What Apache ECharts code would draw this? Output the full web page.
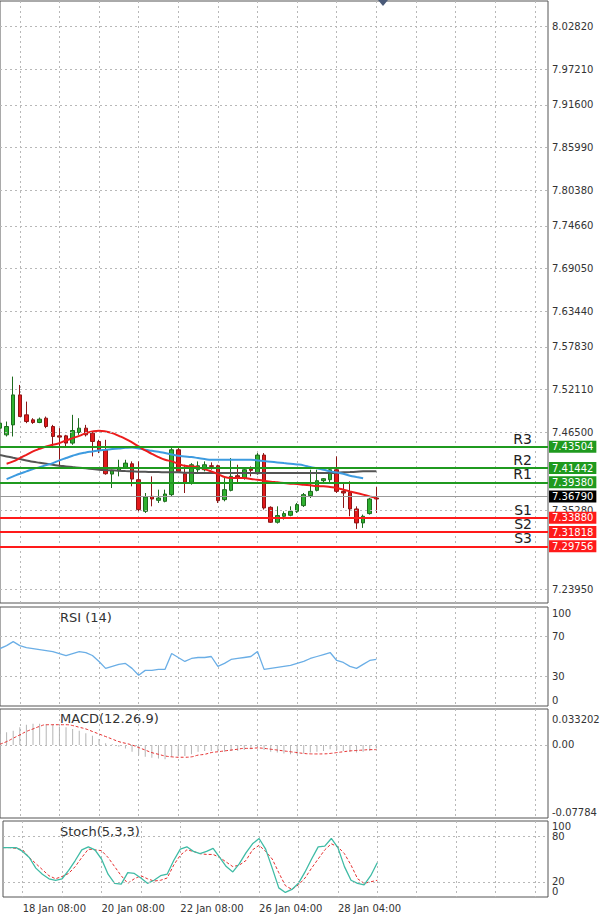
<!DOCTYPE html>
<html>
<head>
<meta charset="utf-8">
<script src="https://cdn.jsdelivr.net/npm/echarts@6/dist/echarts.min.js"></script>
<style>
  html, body { margin: 0; padding: 0; background: #fff; }
  #chart { width: 600px; height: 922px; }
</style>
</head>
<body>
<div id="chart"></div>
<script>
// --- data ---
var slotCount = 84;
var xTickIndex = [3, 15, 27, 39, 51];
var xTickLabels = ['18 Jan 08:00', '20 Jan 08:00', '22 Jan 08:00', '26 Jan 04:00', '28 Jan 04:00'];

// [open, close, low, high]
var candles = [
  [7.4660,7.4730,7.4496,7.4753],[7.4566,7.4683,7.4543,7.4753],[7.4706,7.5127,7.4543,7.5384],[7.5127,7.4823,7.4823,7.5267],
  [7.4847,7.4753,7.4730,7.5033],[7.4777,7.4739,7.4720,7.4800],[7.4739,7.4786,7.4730,7.4809],[7.4800,7.4683,7.4660,7.4823],
  [7.4683,7.4543,7.4380,7.4706],[7.4552,7.4534,7.4123,7.4660],[7.4552,7.4450,7.4403,7.4566],[7.4450,7.4627,7.4426,7.4847],
  [7.4599,7.4660,7.4566,7.4800],[7.4660,7.4566,7.4543,7.4706],[7.4590,7.4473,7.4263,7.4613],[7.4473,7.4356,7.4310,7.4496],
  [7.4356,7.4020,7.4006,7.4496],[7.4015,7.4062,7.3819,7.4076],[7.4062,7.4109,7.3983,7.4216],[7.4109,7.4169,7.4090,7.4216],
  [7.4160,7.3945,7.3843,7.4193],[7.3936,7.3516,7.3492,7.4193],[7.3492,7.3693,7.3469,7.3749],[7.3702,7.3665,7.3562,7.3983],
  [7.3646,7.3679,7.3609,7.3796],[7.3632,7.3735,7.3618,7.3796],[7.3726,7.4356,7.3702,7.4380],[7.4356,7.4053,7.4029,7.4380],
  [7.4020,7.3899,7.3749,7.4146],[7.3899,7.4146,7.3866,7.4169],[7.4076,7.4132,7.4029,7.4193],[7.4076,7.4146,7.4053,7.4193],
  [7.4132,7.4123,7.4076,7.4179],[7.4132,7.3642,7.3609,7.4146],[7.3656,7.3796,7.3632,7.3959],[7.3786,7.3983,7.3772,7.4240],
  [7.3992,7.3973,7.3889,7.4146],[7.3959,7.4076,7.3936,7.4099],[7.4085,7.4067,7.3983,7.4123],[7.4020,7.4282,7.4006,7.4310],
  [7.4282,7.3539,7.3516,7.4310],[7.3548,7.3338,7.3329,7.3562],[7.3338,7.3432,7.3320,7.3562],[7.3422,7.3460,7.3376,7.3492],
  [7.3436,7.3492,7.3422,7.3562],[7.3492,7.3586,7.3469,7.3609],[7.3572,7.3726,7.3553,7.3749],[7.3712,7.3772,7.3679,7.4076],
  [7.3786,7.3922,7.3772,7.4076],[7.3922,7.3950,7.3889,7.3959],[7.3936,7.4076,7.3889,7.4099],[7.4076,7.3772,7.3749,7.4263],
  [7.3772,7.3749,7.3539,7.3889],[7.3758,7.3525,7.3422,7.3913],[7.3525,7.3329,7.3245,7.3562],[7.3329,7.3422,7.3259,7.3446],
  [7.3460,7.3665,7.3446,7.3679],[7.3679,7.3665,7.3469,7.3833]
];

var maFast = ['-',7.4160,7.4193,7.4240,7.4286,7.4333,7.4370,7.4403,7.4426,7.4450,7.4487,7.4520,7.4552,7.4590,7.4613,7.4622,
  7.4613,7.4590,7.4552,7.4510,7.4459,7.4403,7.4347,7.4300,7.4254,7.4216,7.4193,7.4160,7.4132,7.4123,7.4109,7.4085,7.4053,
  7.4015,7.3973,7.3959,7.3959,7.3959,7.3945,7.3936,7.3922,7.3908,7.3899,7.3889,7.3880,7.3875,7.3866,7.3857,7.3847,7.3843,
  7.3833,7.3819,7.3796,7.3772,7.3749,7.3726,7.3702,7.3679];
var maMid = ['-',7.3945,7.3983,7.4020,7.4053,7.4085,7.4113,7.4141,7.4169,7.4207,7.4240,7.4272,7.4300,7.4319,7.4333,7.4347,
  7.4356,7.4366,7.4375,7.4384,7.4389,7.4375,7.4356,7.4342,7.4328,7.4310,7.4291,7.4272,7.4263,7.4254,7.4240,7.4226,7.4216,
  7.4216,7.4216,7.4216,7.4216,7.4216,7.4216,7.4207,7.4197,7.4188,7.4179,7.4169,7.4160,7.4151,7.4137,7.4113,7.4095,7.4076,
  7.4053,7.4039,7.4020,7.3992,7.3973,7.3955];
var maSlow = [7.4282,7.4263,7.4244,7.4226,7.4207,7.4188,7.4174,7.4160,7.4146,7.4132,7.4123,7.4113,7.4104,7.4095,7.4085,7.4076,
  7.4071,7.4067,7.4062,7.4057,7.4053,7.4048,7.4048,7.4043,7.4043,7.4039,7.4039,7.4039,7.4034,7.4034,7.4029,7.4029,7.4029,
  7.4029,7.4029,7.4029,7.4029,7.4029,7.4029,7.4029,7.4029,7.4029,7.4029,7.4029,7.4029,7.4029,7.4029,7.4029,7.4029,7.4029,
  7.4029,7.4034,7.4039,7.4043,7.4048,7.4053,7.4053,7.4053];

var priceTicks = ['8.02820','7.97210','7.91600','7.85990','7.80380','7.74660','7.69050','7.63440','7.57830','7.52110',
  '7.46500','7.40890','7.35280','7.29670','7.23950'];
var levelNames = ['R3','R2','R1','S1','S2','S3'];
var levelValues = ['7.43504','7.41442','7.39380','7.33880','7.31818','7.29756'];
var lastPrice = '7.36790';

var rsiTicks = ['100', '70', '30', '0'];
var rsi = [58,61,65,61,59,58,57,56,55,53,51,53,55,54,51,45,38,40,42,43,38,31,36,36,37,37,53,49,45,48,49,49,50,40,43,47,48,49,
  50,55,37,38,39,40,41,43,45,48,50,52,54,46,44,40,38,42,46,47];
var macdTicks = ['0.033202', '0.00', '-0.07784'];
var macdHist = [0.013,0.015,0.017,0.021,0.024,0.025,0.025,0.024,0.024,0.022,0.021,0.019,0.017,0.014,0.011,0.007,0.002,0.001,
  -0.002,-0.004,-0.008,-0.012,-0.014,-0.015,-0.016,-0.017,-0.014,-0.013,-0.013,-0.011,-0.008,-0.007,-0.007,-0.007,-0.008,
  -0.007,-0.007,-0.006,-0.005,-0.003,-0.006,-0.008,-0.009,-0.010,-0.011,-0.011,-0.010,-0.009,-0.008,-0.007,-0.005,-0.006,
  -0.007,-0.008,-0.009,-0.008,-0.007,-0.004];
var macdSignal = [0.001,0.004,0.008,0.012,0.016,0.019,0.022,0.024,0.024,0.024,0.024,0.023,0.021,0.019,0.016,0.013,0.010,0.007,
  0.004,0.002,0.000,-0.003,-0.006,-0.009,-0.011,-0.013,-0.014,-0.0145,-0.0145,-0.014,-0.012,-0.011,-0.009,-0.008,-0.007,
  -0.006,-0.005,-0.004,-0.004,-0.0035,-0.004,-0.005,-0.006,-0.007,-0.008,-0.009,-0.010,-0.0105,-0.0106,-0.0105,-0.010,
  -0.009,-0.008,-0.007,-0.0065,-0.006,-0.0055,-0.0055];
var stochTicks = ['100', '80', '20', '0'];
var stochMain = [65,65,65,60,52,38,30,24,22,24,35,48,62,66,62,50,30,18,17,32,31,25,18,22,28,30,48,63,66,60,57,60,64,52,40,33,
  44,58,70,77,63,38,12,6,10,18,33,50,66,67,77,65,40,22,18,16,28,45];
var stochSignal = [65,65,64,62,52,44,36,28,24,27,31,40,52,63,62,61,52,40,28,18,24,28,24,21,22,25,42,55,62,60,57,56,56,52,46,40,
  42,48,62,68,60,50,32,15,10,16,25,38,50,62,70,66,57,42,24,18,20,22];

(function() {
  var ink = '#333';
  var gridCol = '#b8b8b8';
  var axisFont = 'DejaVu Sans';
  var categories = [];
  for (var i = 0; i < slotCount; i++) {
    var k = xTickIndex.indexOf(i);
    categories.push(k >= 0 ? xTickLabels[k] : 'b' + i);
  }
  function vSplit(idx) { return idx >= 3 && (idx - 3) % 6 === 0; }

  var grids = [
    { left: 0, right: 52, top: 1, height: 602 },
    { left: 0, right: 52, top: 607, height: 99 },
    { left: 0, right: 52, top: 709, height: 109 },
    { left: 0, right: 52, top: 821, height: 76 }
  ].map(function(g) {
    g.show = true; g.borderColor = '#555'; g.borderWidth = 1; return g;
  });

  var xAxes = grids.map(function(g, gi) {
    return {
      type: 'category', gridIndex: gi, data: categories, boundaryGap: false,
      axisLine: { show: false }, axisTick: { show: false },
      axisLabel: {
        show: gi === 3, interval: 0, align: 'left', margin: 6,
        color: ink, fontFamily: axisFont, fontSize: 10,
        formatter: function(v) { return v.charAt(0) === 'b' ? '' : v; }
      },
      splitLine: { show: true, interval: function(idx) { return vSplit(idx); },
        lineStyle: { color: gridCol, type: [2, 3], width: 1 } }
    };
  });

  function subAxis(gi, min, max) {
    return {
      type: 'value', gridIndex: gi, position: 'right', min: min, max: max,
      axisLine: { show: false }, axisTick: { show: false }, axisLabel: { show: false },
      splitLine: { show: false }
    };
  }
  var yAxes = [
    { type: 'value', gridIndex: 0, position: 'right', min: 7.2204, max: 8.0660, scale: true,
      axisLine: { show: false }, axisTick: { show: false }, axisLabel: { show: false }, splitLine: { show: false } },
    subAxis(1, 0, 100), subAxis(2, -0.0864, 0.0426), subAxis(3, 0, 100)
  ];

  // tick labels (and optional dotted grid lines) drawn as markLines at the given values
  function tickLines(labels, dotted, nudge) {
    return {
      symbol: 'none', silent: true, animation: false,
      label: { position: 'end', distance: 4, color: ink, fontFamily: axisFont, fontSize: 10, formatter: '{b}' },
      data: labels.map(function(t) {
        var item = { yAxis: parseFloat(t), name: t,
          lineStyle: { color: dotted(t) ? gridCol : 'rgba(0,0,0,0)', type: [2, 3], width: 1 } };
        if (nudge && nudge[t]) item.label = { offset: [0, nudge[t]] };
        return item;
      })
    };
  }
  function titleText(text, y) {
    return { type: 'text', left: 60, top: y, style: { text: text, fill: ink, font: '13px "DejaVu Sans"' } };
  }

  var levelLines = levelNames.map(function(n, i) {
    var up = n.charAt(0) === 'R';
    return {
      yAxis: parseFloat(levelValues[i]), name: levelValues[i],
      lineStyle: { color: up ? '#1f9a1f' : '#ff1a1a', width: 2, type: 'solid' },
      label: { formatter: '{b}', backgroundColor: up ? '#1f9a1f' : '#ff1a1a',
        color: '#fff', padding: [1, 3, 1, 3], fontFamily: axisFont, fontSize: 10, position: 'end', distance: 1 }
    };
  });
  var levelNameLines = levelNames.map(function(n, i) {
    return { yAxis: parseFloat(levelValues[i]), name: n, lineStyle: { color: 'rgba(0,0,0,0)' },
      label: { formatter: '{b}', position: 'insideEndTop', distance: [16, 1], color: '#222', fontSize: 14,
        fontFamily: 'DejaVu Sans' } };
  });

  var chart = echarts.init(document.getElementById('chart'), null, { renderer: 'svg' });
  chart.setOption({
    animation: false,
    backgroundColor: '#fff',
    grid: grids,
    xAxis: xAxes,
    yAxis: yAxes,
    graphic: [
      titleText('RSI (14)', 611),
      titleText('MACD(12.26.9)', 712),
      titleText('Stoch(5,3,3)', 825),
      { type: 'polygon', shape: { points: [[378, 0], [388, 0], [383, 6]] }, style: { fill: '#4a5a78' } }
    ],
    series: [
      { type: 'line', xAxisIndex: 0, yAxisIndex: 0, data: [], z: 1,
        markLine: tickLines(priceTicks, function() { return true; }) },
      { type: 'candlestick', xAxisIndex: 0, yAxisIndex: 0, data: candles, barWidth: 4, z: 3,
        itemStyle: { color: '#2fb12f', color0: '#e3191b', borderColor: '#1d6b1d', borderColor0: '#8c1515', borderWidth: 1 } },
      { type: 'line', xAxisIndex: 0, yAxisIndex: 0, data: maSlow, showSymbol: false, smooth: true, z: 4,
        lineStyle: { color: '#555', width: 2 } },
      { type: 'line', xAxisIndex: 0, yAxisIndex: 0, data: maMid, showSymbol: false, smooth: true, z: 4,
        lineStyle: { color: '#3d9be0', width: 2 } },
      { type: 'line', xAxisIndex: 0, yAxisIndex: 0, data: maFast, showSymbol: false, smooth: true, z: 4,
        lineStyle: { color: '#ec1c1c', width: 2 } },
      { type: 'line', xAxisIndex: 0, yAxisIndex: 0, data: [], z: 5,
        markLine: { symbol: 'none', silent: true, animation: false,
          data: levelLines.concat(levelNameLines).concat([{
            yAxis: parseFloat(lastPrice), name: lastPrice, lineStyle: { color: '#999', width: 1, type: 'solid' },
            label: { formatter: '{b}', backgroundColor: '#000', color: '#fff', padding: [1, 3, 1, 3],
              fontFamily: axisFont, fontSize: 10, position: 'end', distance: 1 }
          }]) } },
      // RSI
      { type: 'line', xAxisIndex: 1, yAxisIndex: 1, data: [],
        markLine: tickLines(rsiTicks, function(t) { return t === '70' || t === '30'; }, { '100': 6, '0': -6 }) },
      { type: 'line', xAxisIndex: 1, yAxisIndex: 1, data: rsi, showSymbol: false, lineStyle: { color: '#6aaee6', width: 1.3 } },
      // MACD
      { type: 'line', xAxisIndex: 2, yAxisIndex: 2, data: [],
        markLine: tickLines(macdTicks, function(t) { return t === '0.00'; }) },
      { type: 'bar', xAxisIndex: 2, yAxisIndex: 2, data: macdHist, barWidth: 1, itemStyle: { color: '#b5b5b5' } },
      { type: 'line', xAxisIndex: 2, yAxisIndex: 2, data: macdSignal, showSymbol: false, smooth: true,
        lineStyle: { color: '#e53030', width: 1, type: [3, 2] } },
      // Stoch
      { type: 'line', xAxisIndex: 3, yAxisIndex: 3, data: [],
        markLine: tickLines(stochTicks, function(t) { return t === '80' || t === '20'; }, { '100': 5, '0': -6 }) },
      { type: 'line', xAxisIndex: 3, yAxisIndex: 3, data: stochSignal, showSymbol: false,
        lineStyle: { color: '#e53030', width: 1, type: [3, 2] } },
      { type: 'line', xAxisIndex: 3, yAxisIndex: 3, data: stochMain, showSymbol: false,
        lineStyle: { color: '#3fbba5', width: 1.3 } }
    ]
  });
  window.addEventListener('resize', function() { chart.resize(); });
})();
</script>
</body>
</html>
